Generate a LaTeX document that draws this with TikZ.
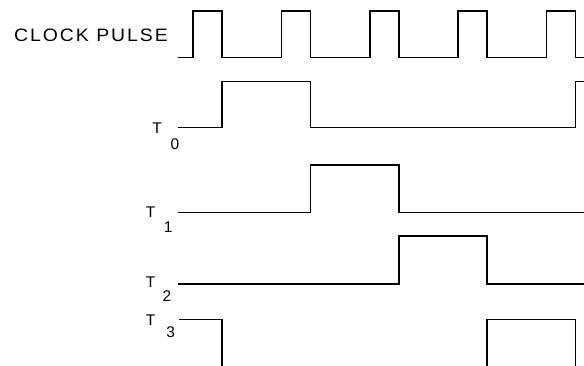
\documentclass[tikz,border=0pt]{standalone}
\usepackage{fontspec}
\setmainfont{Liberation Sans}
\begin{document}
\begin{tikzpicture}[x=1pt,y=-1pt,
  wave/.style={line width=1.5pt,line join=miter,black},
  lbl/.style={inner sep=0pt,font=\fontsize{15.5}{17}\selectfont},
  clk/.style={inner sep=0pt,font=\fontsize{18}{20}\selectfont}]
\useasboundingbox (0,0) rectangle (584,366);
\begin{scope}
\clip (0,0) rectangle (584,366);
% clock
\draw[wave] (178,57.7) -- (193.2,57.7) -- (193.2,11) -- (222,11) -- (222,57.7)
  -- (281.5,57.7) -- (281.5,11) -- (310.5,11) -- (310.5,57.7)
  -- (369.8,57.7) -- (369.8,11) -- (398.8,11) -- (398.8,57.7)
  -- (458,57.7) -- (458,11) -- (487.1,11) -- (487.1,57.7)
  -- (546.3,57.7) -- (546.3,11) -- (575.4,11) -- (575.4,57.7) -- (590,57.7);
% T0
\draw[wave] (178,127.7) -- (222,127.7) -- (222,81.7) -- (310.5,81.7) -- (310.5,127.7)
  -- (575.4,127.7) -- (575.4,81.7) -- (590,81.7);
% T1
\draw[wave] (178,212.3) -- (310.5,212.3) -- (310.5,165) -- (398.8,165) -- (398.8,212.3) -- (590,212.3);
% T2
\draw[wave] (178,284) -- (398.8,284) -- (398.8,236) -- (487.1,236) -- (487.1,284) -- (590,284);
% T3
\draw[wave] (179,319.3) -- (222,319.3) -- (222,372);
\draw[wave] (487.1,372) -- (487.1,319.3) -- (575.4,319.3) -- (575.4,372);
\end{scope}
% labels
\node[clk] (clock) at (91,35.3) {\scalebox{1.08}[1]{\addfontfeature{LetterSpace=10}CLOCK PULSE}};
\node[lbl] (t0) at (157,128) {T};
\node[lbl] (t0s) at (175,144.5) {0};
\node[lbl] (t1) at (150.7,212) {T};
\node[lbl] (t1s) at (168.3,226.7) {1};
\node[lbl] (t2) at (150.7,282.2) {T};
\node[lbl] (t2s) at (167,296.3) {2};
\node[lbl] (t3) at (150.7,320.3) {T};
\node[lbl] (t3s) at (170.7,332.2) {3};
\end{tikzpicture}
\end{document}
